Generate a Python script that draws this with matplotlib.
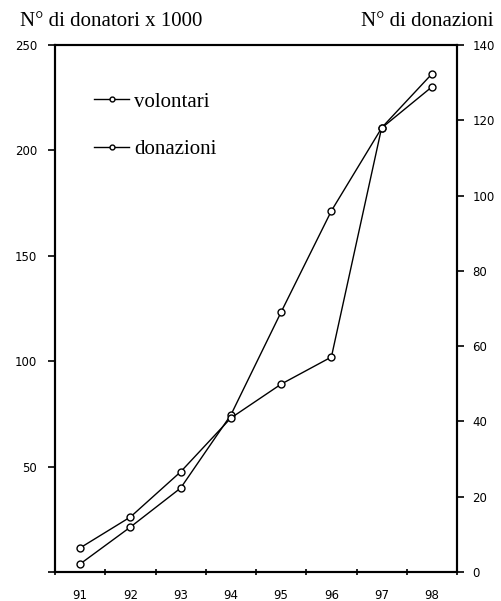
import matplotlib.pyplot as plt
import numpy as np

anni = ['91', '92', '93', '94', '95', '96', '97', '98']
volontari = [3.8, 21.3, 39.8, 74.5, 123.3, 171.3, 210.6, 230.1]   # N° donatori x 1000
donazioni = [6.4, 14.6, 26.6, 40.9, 49.9, 57.1, 118.0, 132.3]     # N° donazioni

fig = plt.figure(figsize=(5.01, 6.01), dpi=100)
ax = fig.add_axes([0.1098, 0.0483, 0.8024, 0.8769])
ax2 = ax.twinx()

x = np.arange(len(anni)) + 0.5
style = dict(color='black', lw=1.0, marker='o', ms=5, mfc='white', mec='black', mew=1.0)
l1, = ax.plot(x, volontari, label='volontari', **style)
l2, = ax2.plot(x, donazioni, label='donazioni', **style)

ax.set_xlim(0, len(anni))
ax.set_ylim(0, 250)
ax2.set_ylim(0, 140)
ax.set_yticks(range(0, 251, 50))
ax2.set_yticks(range(0, 141, 20))
ax.set_yticklabels(['' if v == 0 else str(v) for v in range(0, 251, 50)])

ax.set_xticks(range(len(anni) + 1))
ax.set_xticklabels([])
ax.set_xticks(x, minor=True)
ax.set_xticklabels(anni, minor=True)
ax.tick_params(axis='x', which='minor', length=0, pad=12)
ax.tick_params(axis='x', which='major', length=5, direction='inout', width=1.2)

for a in (ax, ax2):
    for s in a.spines.values():
        s.set_linewidth(1.5)
ax.tick_params(axis='y', length=5, width=1.2, labelsize=8.5, pad=8)
ax2.tick_params(axis='y', length=5, width=1.2, labelsize=8.5, pad=6)
ax.tick_params(axis='x', which='minor', labelsize=8.5)

fig.text(0.04, 0.965, 'N° di donatori x 1000', family='Liberation Serif', fontsize=15, va='center')
fig.text(0.985, 0.965, 'N° di donazioni', family='Liberation Serif', fontsize=15, va='center', ha='right')

leg = ax.legend(handles=[l1, l2], frameon=False, loc='upper left', bbox_to_anchor=(0.05, 0.946),
                prop={'family': 'Liberation Serif', 'size': 15}, labelspacing=1.35,
                handlelength=1.7, handletextpad=0.25, markerscale=0.7)

plt.savefig('out.png', dpi=100)
